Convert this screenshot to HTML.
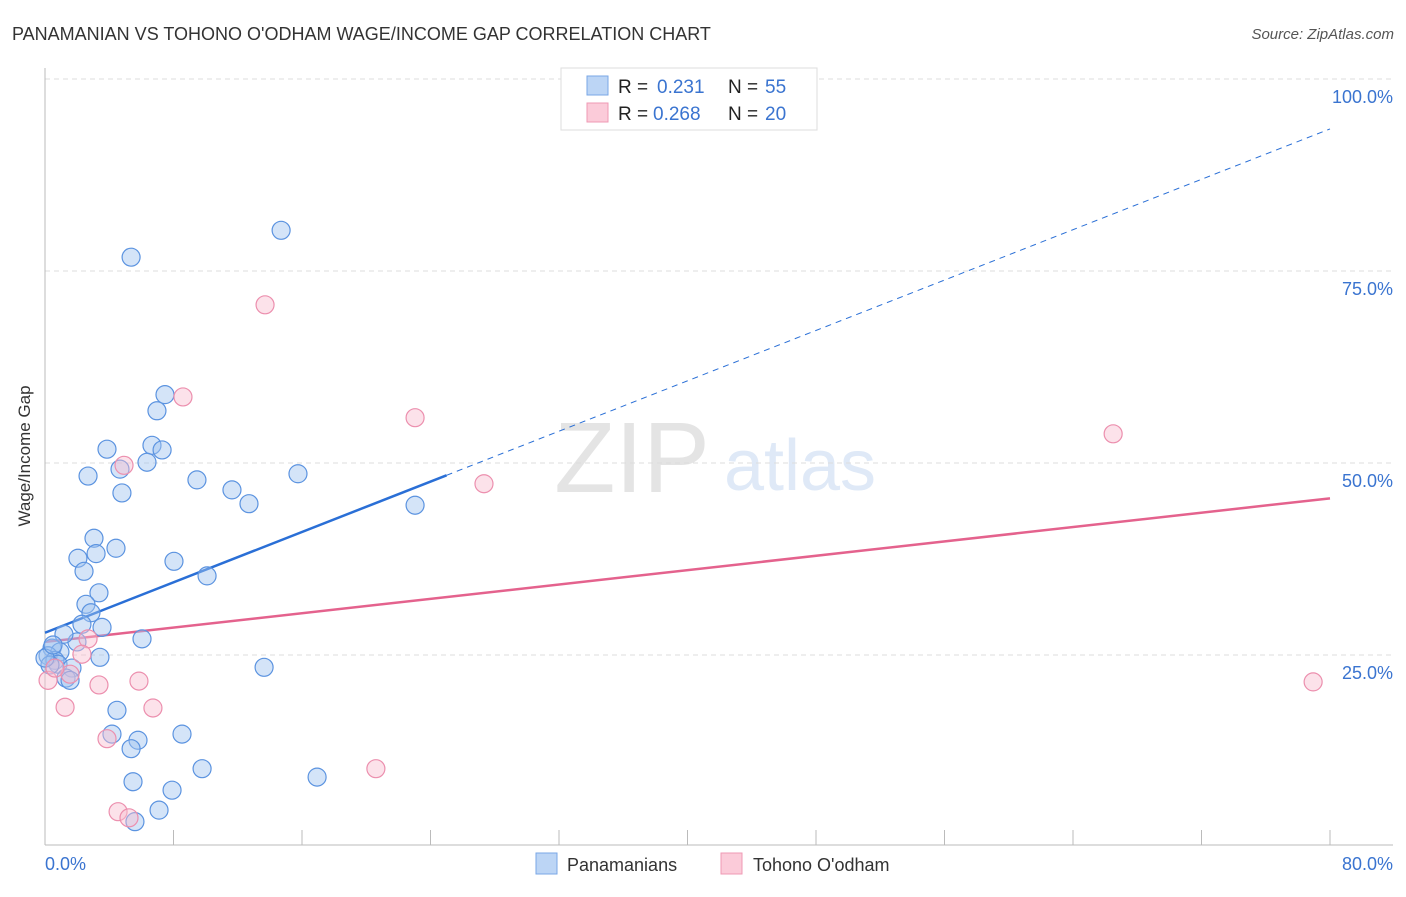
<!DOCTYPE html>
<html><head><meta charset="utf-8"><style>
body{margin:0;background:#fff;font-family:"Liberation Sans",sans-serif}
svg text{font-family:"Liberation Sans",sans-serif}
</style></head><body>
<svg id="chart" width="1406" height="892" xmlns="http://www.w3.org/2000/svg">
<text x="12" y="40" font-size="18" fill="#333">PANAMANIAN VS TOHONO O'ODHAM WAGE/INCOME GAP CORRELATION CHART</text>
<text x="1394" y="39" font-size="15" fill="#555" text-anchor="end" font-style="italic">Source: ZipAtlas.com</text>
<text x="632" y="492" font-size="100" fill="#e4e4e4" text-anchor="middle" font-family="Liberation Serif">ZIP</text>
<text x="800" y="490" font-size="72" fill="#dfe9f7" text-anchor="middle">atlas</text>
<g id="grid"></g>
<line x1="45" y1="68" x2="45" y2="845" stroke="#bbb"/>
<line x1="45" y1="845" x2="1393" y2="845" stroke="#bbb"/>
<g id="ticks"></g>
<g id="trend"></g>
<g id="points"></g>
<text x="30" y="456" font-size="17" fill="#333" text-anchor="middle" transform="rotate(-90 30 456)">Wage/Income Gap</text>
<text x="45" y="870" font-size="18" fill="#3a74d0">0.0%</text>
<text x="1393" y="870" font-size="18" fill="#3a74d0" text-anchor="end">80.0%</text>
<g>
<rect x="561" y="68" width="256" height="62" fill="#fff" stroke="#ddd"/>
<rect x="587" y="76" width="21" height="19" fill="#bcd5f5" stroke="#7aa7e6"/>
<rect x="587" y="103" width="21" height="19" fill="#fbcbd9" stroke="#ef9ab4"/>
<text x="618" y="93" font-size="19" fill="#222">R =</text><text x="657" y="93" font-size="19" fill="#3a74d0">0.231</text>
<text x="728" y="93" font-size="19" fill="#222">N =</text><text x="765" y="93" font-size="19" fill="#3a74d0">55</text>
<text x="618" y="120" font-size="19" fill="#222">R =</text><text x="653" y="120" font-size="19" fill="#3a74d0">0.268</text>
<text x="728" y="120" font-size="19" fill="#222">N =</text><text x="765" y="120" font-size="19" fill="#3a74d0">20</text>
</g>
<g>
<rect x="536" y="853" width="21" height="21" fill="#bcd5f5" stroke="#7aa7e6"/>
<text x="567" y="871" font-size="18" fill="#333">Panamanians</text>
<rect x="721" y="853" width="21" height="21" fill="#fbcbd9" stroke="#ef9ab4"/>
<text x="753" y="871" font-size="18" fill="#333">Tohono O'odham</text>
</g>
</svg>
<script>
const blueX=[5.36,14.7,7.47,6.97,6.66,7.29,3.86,6.35,2.68,4.67,9.46,15.75,11.64,4.79,12.7,23.04,3.05,4.42,3.18,2.05,2.43,8.03,10.09,3.36,2.55,2.86,2.3,3.55,6.04,1.99,1.18,0.44,0.93,0.19,0.62,0.81,3.42,13.64,1.68,1.31,1.56,4.48,4.17,8.53,5.79,5.36,9.78,16.94,5.48,7.91,7.1,5.6,0.31,0.0,0.5];
const blueY=[76.8,80.3,58.9,56.8,52.3,51.7,51.8,50.1,48.3,49.2,47.8,48.6,46.5,46.1,44.7,44.5,40.2,38.9,38.2,37.6,35.9,37.2,35.3,33.1,31.6,30.5,29.0,28.6,27.1,26.7,27.7,25.9,25.4,24.9,24.3,23.8,24.7,23.4,23.3,22.0,21.7,17.8,14.7,14.7,13.9,12.8,10.2,9.1,8.5,7.4,4.8,3.3,23.7,24.6,26.3];
const pinkX=[13.7,8.59,23.04,66.5,27.33,4.92,2.68,2.3,1.56,0.19,3.36,5.85,1.25,6.72,3.86,20.6,4.55,5.23,78.95,0.62];
const pinkY=[70.6,58.6,55.9,53.8,47.3,49.7,27.1,25.1,22.5,21.7,21.1,21.6,18.2,18.1,14.1,10.2,4.6,3.8,21.5,23.3];
const yTicks=[25,50,75,100];
const yTickLabels=["25.0%","50.0%","75.0%","100.0%"];
const xTicks=[0,8,16,24,32,40,48,56,64,72,80];
const blueTrend=[27.9,93.5];
const blueSolidEnd=25;
const pinkTrend=[26.7,45.4];
const X=v=>45+v*(1285/80), Y=v=>847-v*7.68;
const NS="http://www.w3.org/2000/svg";
function mk(tag,attrs,parent){const e=document.createElementNS(NS,tag);for(const k in attrs)e.setAttribute(k,attrs[k]);document.getElementById(parent).appendChild(e);return e;}
yTicks.forEach((t,i)=>{
  const l=mk('line',{x1:45,x2:1393,y1:Y(t),y2:Y(t),stroke:'#ddd','stroke-dasharray':'5,4'},'grid');
  
  
  const tx=mk('text',{x:1393,y:Y(t)+24,'font-size':18,fill:'#3a74d0','text-anchor':'end'},'grid');
  tx.textContent=yTickLabels[i];
  
  
});
xTicks.forEach(t=>{
  const l=mk('line',{x1:X(t),x2:X(t),y1:830,y2:845,stroke:'#bbb'},'ticks');
  
  
});
const bAt=x=>blueTrend[0]+(blueTrend[1]-blueTrend[0])*x/80;
let l1=mk('line',{x1:X(0),y1:Y(bAt(0)),x2:X(blueSolidEnd),y2:Y(bAt(blueSolidEnd)),stroke:'#2a6fd6','stroke-width':2.5},'trend');


let l2=mk('line',{x1:X(blueSolidEnd),y1:Y(bAt(blueSolidEnd)),x2:X(80),y2:Y(bAt(80)),stroke:'#2a6fd6','stroke-width':1,'stroke-dasharray':'6,5'},'trend');


let l3=mk('line',{x1:X(0),y1:Y(pinkTrend[0]),x2:X(80),y2:Y(pinkTrend[1]),stroke:'#e4628d','stroke-width':2.5},'trend');


blueX.forEach((x,i)=>{
  const c=mk('circle',{cx:X(x),cy:Y(blueY[i]),r:9,fill:'rgba(160,195,240,0.45)',stroke:'#5b93e0','stroke-width':1.2},'points');
  
  
});
pinkX.forEach((x,i)=>{
  const c=mk('circle',{cx:X(x),cy:Y(pinkY[i]),r:9,fill:'rgba(248,190,208,0.45)',stroke:'#ec8fae','stroke-width':1.2},'points');
  
  
});
</script>
</body></html>
